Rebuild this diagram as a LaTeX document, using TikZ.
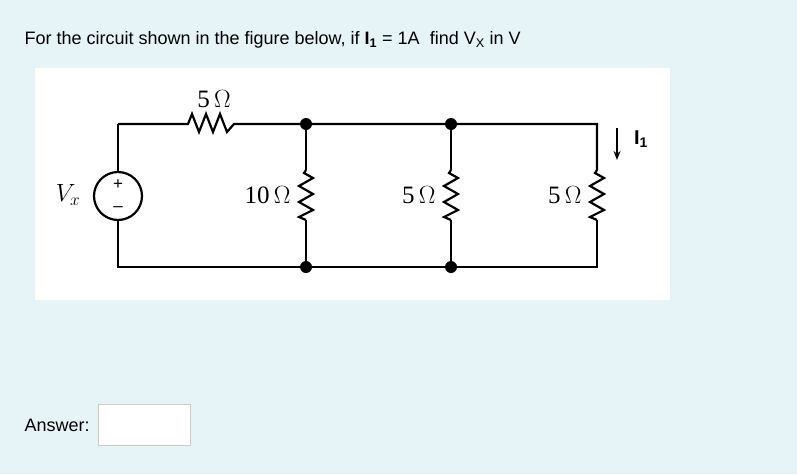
\documentclass[tikz,border=0pt]{standalone}
\usepackage{fontspec}
\setmainfont{Liberation Sans}
\newfontfamily\serifval{Liberation Serif}
\usetikzlibrary{arrows.meta}
\definecolor{pagebg}{HTML}{E6F4F7}
\tikzset{
  wire/.style={line width=2.2pt},
  dot/.style={circle, fill=black, inner sep=0pt, minimum size=12pt},
  val/.style={font=\serifval\fontsize{25}{25}\selectfont},
  txt/.style={font=\fontsize{18}{20}\selectfont, anchor=west},
  sign/.style={font=\fontsize{17}{17}\selectfont, inner sep=0pt},
  zig/.pic={\draw[wire] (0,-25) -- (-2,-22) -- (7,-17) -- (-7,-9) -- (7,-1) -- (-7,7) -- (7,15) -- (-7,22) -- (0,25);}
}
\begin{document}
\begin{tikzpicture}[x=1pt,y=-1pt]
        % page and panel
        \fill[pagebg] (0,0) rectangle (797,474);
        \fill[white] (35,68) rectangle (670,300);
        \draw[gray!40, fill=white] (98,404) rectangle (190,445);
        \node[txt] (question) at (21,40) {For the circuit shown in the figure below, if \textbf{I\textsubscript{1}} = 1A\ \ find V\textsubscript{X} in V};
        \node[txt] (answer) at (21,425) {Answer:};

        % corners and junctions
        \coordinate (tl) at (118,124);
        \coordinate (bl) at (118,267);
        \coordinate (tr) at (597,124);
        \coordinate (br) at (597,267);
        \node[dot] (ta) at (306,124) {};
        \node[dot] (tb) at (451,124) {};
        \node[dot] (ba) at (306,267) {};
        \node[dot] (bb) at (451,267) {};

        % source
        \node[draw, circle, line width=2.2pt, minimum size=48pt, inner sep=0pt] (src) at (118,196) {};
        \node[sign] (plus) at (118,185) {+};
        \node[sign] (minus) at (118,209) {--};
        \node[val] (vx) at (68,195) {$V_x$};

        % top resistor
        \coordinate (ra) at (188,124);
        \coordinate (rb) at (234,124);
        \draw[wire] (tl) -- (src.north);
        \draw[wire] (src.south) -- (bl) -- (br) -- (597,220);
        \draw[wire] (tl) -- (ra) -- (192,114) -- (199,132) -- (206,114) -- (213,132) -- (220,114) -- (227,132) -- (rb) -- (tr) -- (597,170);
        \node[val] (r1) at (214,99) {5\,$\Omega$};

        % shunt resistors
        \foreach \x/\lbl/\nm in {306/10\,$\Omega$/ra, 451/5\,$\Omega$/rb, 597/5\,$\Omega$/rc} {
          \draw[wire] (\x,124) -- (\x,170);
          \draw[wire] (\x,220) -- (\x,267);
          \pic at (\x,195) {zig};
          \node[val, anchor=east] (\nm) at (\x-12,195) {\lbl};
        }

        % current
        \coordinate (ia) at (617,128);
        \coordinate (ib) at (617,160);
        \draw[-{Stealth[length=9pt,width=7pt]}, line width=1.6pt] (ia) -- (ib);
        \node[font=\bfseries\fontsize{20}{20}\selectfont] (i1) at (641,139) {I\textsubscript{1}};
    \end{tikzpicture}
\end{document}
